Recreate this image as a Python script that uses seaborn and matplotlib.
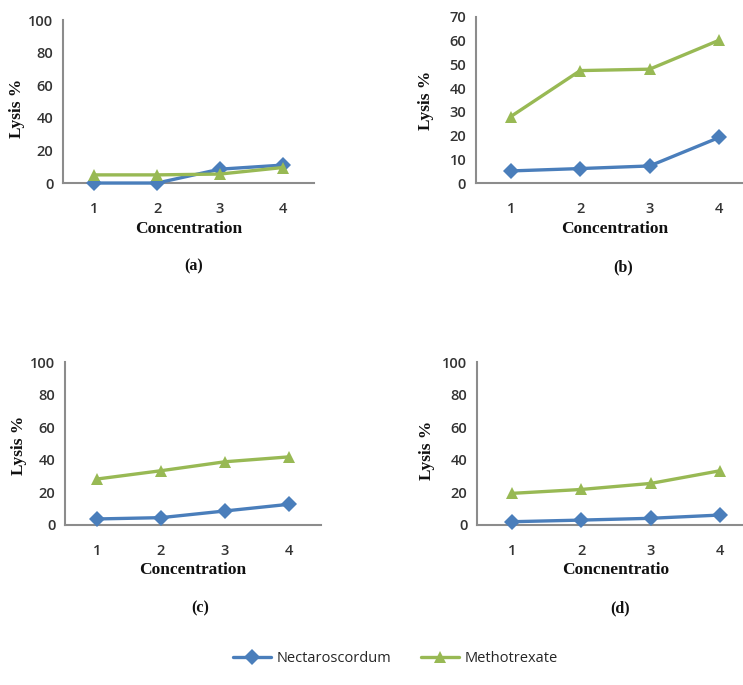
import numpy as np
import pandas as pd
import matplotlib.pyplot as plt
import seaborn as sns

conc = [1, 2, 3, 4]

# lysis %
nect_a = [0, 0, 8.5, 11]
meth_a = [5, 5, 5.5, 9.5]
nect_b = [5.1, 6.1, 7.2, 19.2]
meth_b = [28, 47.4, 48, 60.2]
nect_c = [3.7, 4.5, 8.6, 12.7]
meth_c = [28.2, 33.3, 38.8, 41.8]
nect_d = [2, 3, 4.1, 6.1]
meth_d = [19.4, 21.8, 25.5, 33.3]

panels = ['(a)', '(b)', '(c)', '(d)']
xlabels = ['Concentration', 'Concentration', 'Concentration', 'Concnentratio']
ymax = [100, 70, 100, 100]
ystep = [20, 10, 20, 20]

blue = '#4a7ebb'
green = '#98b954'
axis_col = '#8c8c8c'

sns.set_theme(style='white')
plt.rcParams['font.family'] = ['Open Sans', 'DejaVu Sans']

fig = plt.figure(figsize=(7.43, 6.85), dpi=100)

# axes boxes in figure fractions [left, bottom, width, height]
boxes = [[0.0848, 0.7328, 0.3378, 0.2380],
         [0.6406, 0.7328, 0.3740, 0.2424],
         [0.0875, 0.2336, 0.3445, 0.2379],
         [0.6420, 0.2336, 0.3740, 0.2379]]
ylab_y = [0.46, 0.50, 0.49, 0.46]
sub_x = [0.52, 0.53, 0.53, 0.515]

nect = [nect_a, nect_b, nect_c, nect_d]
meth = [meth_a, meth_b, meth_c, meth_d]

for i in range(4):
    ax = fig.add_axes(boxes[i])
    df = pd.DataFrame({'conc': conc * 2,
                       'lysis': nect[i] + meth[i],
                       'series': ['Nectaroscordum'] * 4 + ['Methotrexate'] * 4})
    sns.lineplot(data=df, x='conc', y='lysis', hue='series', style='series',
                 palette={'Nectaroscordum': blue, 'Methotrexate': green},
                 markers={'Nectaroscordum': 'D', 'Methotrexate': '^'},
                 dashes=False, markersize=8.5, markeredgewidth=0, linewidth=2.4,
                 clip_on=False, zorder=3, ax=ax, legend=(i == 0))
    if i == 0:
        handles, labels = ax.get_legend_handles_labels()
        ax.get_legend().remove()
    ax.set_xlim(0.5, 4.5)
    ax.set_ylim(0, ymax[i])
    ax.set_xticks(conc)
    ax.set_yticks(np.arange(0, ymax[i] + 1, ystep[i]))
    ax.tick_params(axis='both', length=0, labelsize=10.5, colors='#333333')
    ax.tick_params(axis='x', pad=14)
    ax.tick_params(axis='y', pad=7)
    for lab in ax.get_xticklabels() + ax.get_yticklabels():
        lab.set_fontweight('semibold')
    for s in ['top', 'right']:
        ax.spines[s].set_visible(False)
    for s in ['left', 'bottom']:
        ax.spines[s].set_color(axis_col)
        ax.spines[s].set_linewidth(1.5)
    ax.set_xlabel(xlabels[i], family='Liberation Serif', fontweight='bold', fontsize=12.5, color='#111111')
    ax.set_ylabel('Lysis %', family='Liberation Serif', fontweight='bold', fontsize=12.5, color='#111111')
    ax.xaxis.set_label_coords(0.5, -0.23)
    ax.yaxis.set_label_coords(-0.15, ylab_y[i])
    ax.text(sub_x[i], -0.51, panels[i], transform=ax.transAxes, ha='center', va='center',
            family='Liberation Serif', fontweight='bold', fontsize=11.5, color='#111111')

fig.legend(handles, ['Nectaroscordum', 'Methotrexate'], loc='center', bbox_to_anchor=(0.532, 0.039),
           ncol=2, frameon=False, fontsize=10.5, handlelength=2.6, columnspacing=2.0, handletextpad=0.4)

fig.savefig('out.png', dpi=100)
